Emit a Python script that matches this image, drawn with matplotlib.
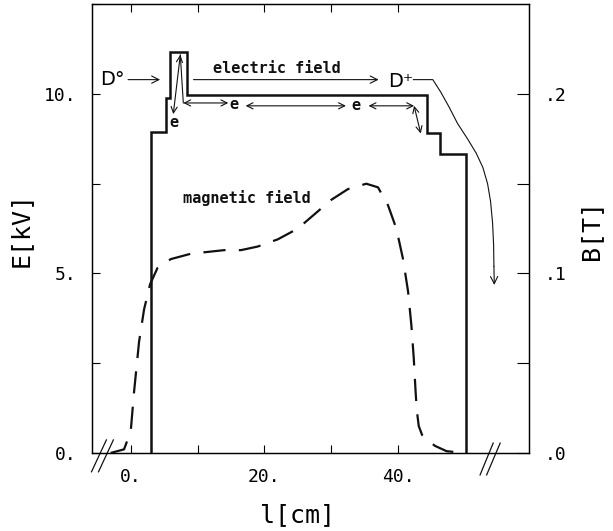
import numpy as np
import matplotlib
matplotlib.use('Agg')
import matplotlib.pyplot as plt

plt.rcParams['font.family'] = 'DejaVu Sans Mono'

# electric potential along the source (solid line, left axis)
e_pos = [3.1, 3.1, 5.25, 5.25, 5.9, 5.9, 8.45, 8.45, 44.4, 44.4, 46.3, 46.3, 50.2, 50.2]
e_kv = [0.0, 8.95, 8.95, 9.9, 9.9, 11.18, 11.18, 9.98, 9.98, 8.92, 8.92, 8.32, 8.32, 0.0]

# magnetic field (dashed line, right axis)
b_pos = [-3.0, -1.0, 0.0, 0.5, 1.25, 2.0, 2.9, 4.0, 6.0, 9.0, 14.0, 16.5, 19.0, 22.0,
         25.0, 27.5, 30.0, 32.5, 35.25, 37.0, 38.5, 39.75, 40.75, 41.5, 42.0, 42.35,
         42.6, 42.8, 43.1, 43.6, 44.5, 45.5, 47.25, 49.75]
b_tesla = [0.0, 0.002, 0.012, 0.034, 0.062, 0.080, 0.094, 0.103, 0.108, 0.111, 0.113,
           0.113, 0.115, 0.119, 0.125, 0.133, 0.141, 0.147, 0.150, 0.148, 0.138, 0.125,
           0.108, 0.090, 0.071, 0.053, 0.036, 0.024, 0.015, 0.010, 0.007, 0.004, 0.001, 0.0]

x_ticks = [0, 10, 20, 30, 40]
x_labels = ['0.', '', '20.', '', '40.']
e_ticks = [0, 2.5, 5, 7.5, 10, 12.5]
e_labels = ['0.', '', '5.', '', '10.', '']
b_ticks = [0, 0.05, 0.1, 0.15, 0.2]
b_labels = ['.0', '', '.1', '', '.2']

fig = plt.figure(figsize=(6.13, 5.31), dpi=100)
ax = fig.add_axes([0.150, 0.147, 0.713, 0.845])
ax2 = ax.twinx()

ax.plot(e_pos, e_kv, color='#111111', lw=1.8, solid_joinstyle='miter')
ax2.plot(b_pos, b_tesla, color='#111111', lw=1.6, linestyle=(0, (10, 6)))

ax.set_xlim(-5.8, 59.6)
ax.set_ylim(0, 12.5)
ax2.set_ylim(0, 0.25)

ax.set_xticks(x_ticks)
ax.set_xticklabels(x_labels)
ax.set_yticks(e_ticks)
ax.set_yticklabels(e_labels)
ax2.set_yticks(b_ticks)
ax2.set_yticklabels(b_labels)

ax.tick_params(direction='in', top=True, right=False, length=6, width=0.8,
               labelsize=13, pad=11)
ax2.tick_params(direction='in', length=9, width=0.8, labelsize=13, pad=11)
for a in (ax, ax2):
    for s in a.spines.values():
        s.set_linewidth(0.9)

ax.set_xlabel('l[cm]', fontsize=18)
ax.set_ylabel('E[kV]', fontsize=18)
ax2.set_ylabel('B[T]', fontsize=18)
ax.xaxis.set_label_coords(0.471, -0.112)
ax.yaxis.set_label_coords(-0.135, 0.497)
ax2.yaxis.set_label_coords(1.115, 0.497)

# axis break marks
brk = dict(transform=ax.transAxes, color='#111111', lw=0.9, clip_on=False)
ax.plot([-0.001, 0.033], [-0.042, 0.029], **brk)
ax.plot([0.015, 0.049], [-0.042, 0.029], **brk)
ax.plot([0.888, 0.918], [-0.049, 0.022], **brk)
ax.plot([0.903, 0.934], [-0.049, 0.022], **brk)

# annotations
arr = dict(arrowstyle='->', lw=0.8, color='#111111', shrinkA=0, shrinkB=0, mutation_scale=13)
arr2 = dict(arrowstyle='<->', lw=0.8, color='#111111', shrinkA=0, shrinkB=0, mutation_scale=11)
bold = dict(fontsize=11, fontweight='bold', color='#111111')

ax.text(-0.9, 10.4, 'D°', ha='right', va='center', fontsize=14, family='DejaVu Sans')
ax.annotate('', xy=(4.4, 10.4), xytext=(-0.4, 10.4), arrowprops=arr)
ax.annotate('', xy=(37.1, 10.4), xytext=(9.4, 10.4), arrowprops=arr)
ax.text(21.8, 10.5, 'electric field', ha='center', va='bottom', **bold)
ax.text(40.4, 10.35, 'D⁺', ha='center', va='center', fontsize=14, family='DejaVu Sans')

curve_x = [42.3, 45.2, 46.4, 47.6, 48.9, 50.4, 51.7, 52.7, 53.4, 53.85, 54.15, 54.3, 54.35]
curve_y = [10.4, 10.4, 10.05, 9.65, 9.18, 8.75, 8.35, 7.95, 7.5, 7.0, 6.4, 5.8, 5.2]
ax.plot(curve_x, curve_y, color='#111111', lw=0.8)
ax.annotate('', xy=(54.4, 4.68), xytext=(54.35, 5.2), arrowprops=arr)

ax.annotate('', xy=(7.42, 11.09), xytext=(6.37, 9.44), arrowprops=arr2)
ax.plot([7.42, 7.87], [11.09, 9.75], color='#111111', lw=0.8)
ax.annotate('', xy=(14.6, 9.75), xytext=(7.87, 9.75), arrowprops=arr2)
ax.text(6.5, 9.2, 'e', ha='center', va='center', **bold)
ax.text(15.4, 9.72, 'e', ha='center', va='center', **bold)
ax.annotate('', xy=(32.2, 9.67), xytext=(17.2, 9.67), arrowprops=arr2)
ax.text(33.7, 9.67, 'e', ha='center', va='center', **bold)
ax.annotate('', xy=(42.4, 9.67), xytext=(35.6, 9.67), arrowprops=arr2)
ax.annotate('', xy=(43.4, 8.9), xytext=(42.4, 9.67), arrowprops=arr2)

ax.text(17.4, 7.1, 'magnetic field', ha='center', va='center', **bold)

fig.savefig('out.png', dpi=100)
